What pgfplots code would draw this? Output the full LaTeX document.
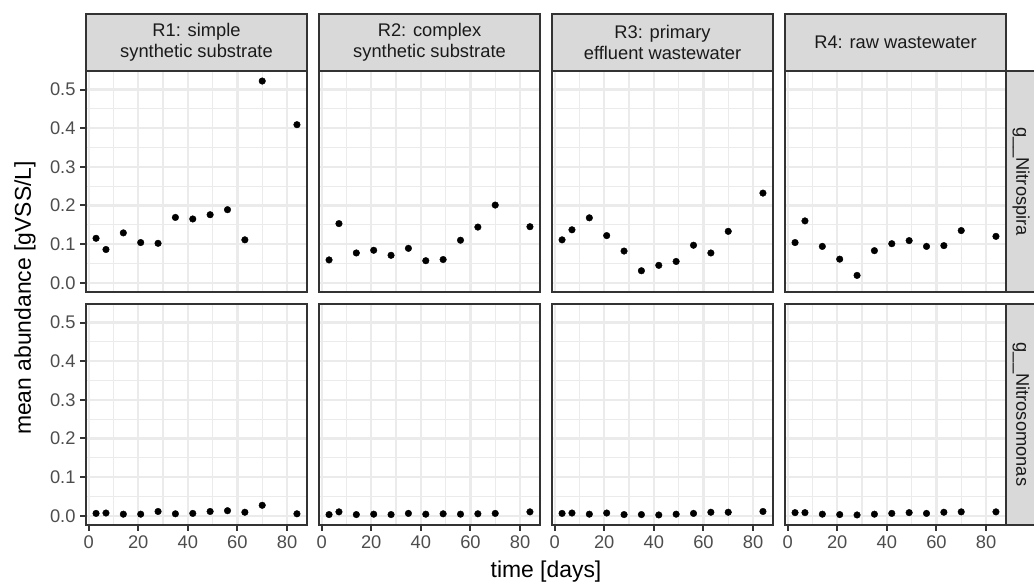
\documentclass[border=0pt]{standalone}
\usepackage{pgfplots}
\pgfplotsset{compat=1.18}
\usepackage{pgfplotstable}
\usepackage{fontspec}
\setmainfont{Liberation Sans}
\definecolor{g92}{HTML}{EBEBEB}
\definecolor{g85}{HTML}{D9D9D9}
\definecolor{g30}{HTML}{4D4D4D}
\definecolor{g20}{HTML}{333333}
\definecolor{g10}{HTML}{1A1A1A}
\newcommand{\tickfont}{\fontsize{18.3}{21}\selectfont}
\newcommand{\titlefont}{\fontsize{22.9}{26}\selectfont}

\pgfplotstableread{
day R1    R2    R3    R4
3   0.115 0.059 0.111 0.104
7   0.086 0.153 0.137 0.160
14  0.129 0.077 0.168 0.094
21  0.104 0.084 0.122 0.061
28  0.102 0.071 0.082 0.019
35  0.169 0.089 0.031 0.083
42  0.165 0.057 0.045 0.101
49  0.176 0.060 0.055 0.109
56  0.189 0.110 0.097 0.094
63  0.111 0.144 0.077 0.096
70  0.522 0.201 0.133 0.135
84  0.409 0.145 0.232 0.120
}\nitrospira

\pgfplotstableread{
day R1    R2    R3    R4
3   0.006 0.003 0.006 0.008
7   0.007 0.010 0.007 0.008
14  0.004 0.003 0.004 0.004
21  0.004 0.004 0.007 0.003
28  0.011 0.003 0.003 0.002
35  0.005 0.006 0.003 0.004
42  0.006 0.004 0.002 0.006
49  0.011 0.005 0.004 0.008
56  0.013 0.004 0.006 0.006
63  0.009 0.005 0.009 0.009
70  0.027 0.006 0.009 0.010
84  0.005 0.010 0.011 0.010
}\nitrosomonas

\pgfplotsset{
  facet/.style={
    scale only axis, width=221pt, height=221pt, anchor=south west,
    xmin=-1.05, xmax=88.05, ymin=-0.024, ymax=0.548,
    xtick={0,20,40,60,80}, ytick={0,0.1,0.2,0.3,0.4,0.5},
    minor xtick={10,30,50,70}, minor ytick={0.05,0.15,0.25,0.35,0.45},
    grid=both,
    major grid style={draw=g92, line width=2.2pt},
    minor grid style={draw=g92, line width=1.1pt},
    axis line style={draw=g20, line width=2pt},
    tick align=outside, major tick length=5.7pt, minor tick length=0pt,
    tick style={draw=g20, line width=2pt},
    xtick pos=bottom, ytick pos=left,
    scaled y ticks=false,
    tick label style={font=\tickfont, text=g30, inner sep=0pt,
      /pgf/number format/assume math mode=true},
    yticklabel style={anchor=east, xshift=-4.6pt,
      /pgf/number format/fixed, /pgf/number format/fixed zerofill,
      /pgf/number format/precision=1},
    xticklabel style={anchor=north, yshift=-4.6pt},
  },
  pts/.style={only marks, mark=*, mark size=3.3pt, draw=black, fill=black},
}

\begin{document}
\begin{tikzpicture}[x=1pt, y=1pt]
% ---- top row: g__Nitrospira
\begin{axis}[facet, at={(86pt,292pt)}, xmajorticks=false]
\addplot[pts] table[x=day, y=R1]{\nitrospira};
\end{axis}
\begin{axis}[facet, at={(319pt,292pt)}, xmajorticks=false, ymajorticks=false]
\addplot[pts] table[x=day, y=R2]{\nitrospira};
\end{axis}
\begin{axis}[facet, at={(552pt,292pt)}, xmajorticks=false, ymajorticks=false]
\addplot[pts] table[x=day, y=R3]{\nitrospira};
\end{axis}
\begin{axis}[facet, at={(785pt,292pt)}, xmajorticks=false, ymajorticks=false]
\addplot[pts] table[x=day, y=R4]{\nitrospira};
\end{axis}
% ---- bottom row: g__Nitrosomonas
\begin{axis}[facet, at={(86pt,59pt)}]
\addplot[pts] table[x=day, y=R1]{\nitrosomonas};
\end{axis}
\begin{axis}[facet, at={(319pt,59pt)}, ymajorticks=false]
\addplot[pts] table[x=day, y=R2]{\nitrosomonas};
\end{axis}
\begin{axis}[facet, at={(552pt,59pt)}, ymajorticks=false]
\addplot[pts] table[x=day, y=R3]{\nitrosomonas};
\end{axis}
\begin{axis}[facet, at={(785pt,59pt)}, ymajorticks=false]
\addplot[pts] table[x=day, y=R4]{\nitrosomonas};
\end{axis}

% ---- strips
\tikzset{strip/.style={fill=g85, draw=g20, line width=2pt},
         striptext/.style={font=\tickfont, text=g10, align=center, inner sep=0pt}}
\draw[strip] (86,513) rectangle (307,570);
\node[striptext] at (196.5,541.5) {R1: simple\\synthetic substrate};
\draw[strip] (319,513) rectangle (540,570);
\node[striptext] at (429.5,541.5) {R2: complex\\synthetic substrate};
\draw[strip] (552,513) rectangle (773,570);
\node[striptext] at (662.5,541.5) {R3: primary\\effluent wastewater};
\draw[strip] (785,513) rectangle (1006,570);
\node[striptext] at (895.5,541.5) {R4: raw wastewater};
\draw[strip] (1006,292) rectangle (1045,513);
\node[striptext, rotate=-90] at (1021,402.5) {g\_\_Nitrospira};
\draw[strip] (1006,59) rectangle (1045,280);
\node[striptext, rotate=-90] at (1021,169.5) {g\_\_Nitrosomonas};

% ---- axis titles
\node[font=\titlefont, rotate=90, anchor=base, inner sep=0pt] at (31,286) {mean abundance [gVSS/L]};
\node[font=\titlefont, anchor=base, inner sep=0pt] at (546,6.7) {time [days]};

\pgfresetboundingbox
\useasboundingbox (0,0) rectangle (1034,584);
\end{tikzpicture}
\end{document}
